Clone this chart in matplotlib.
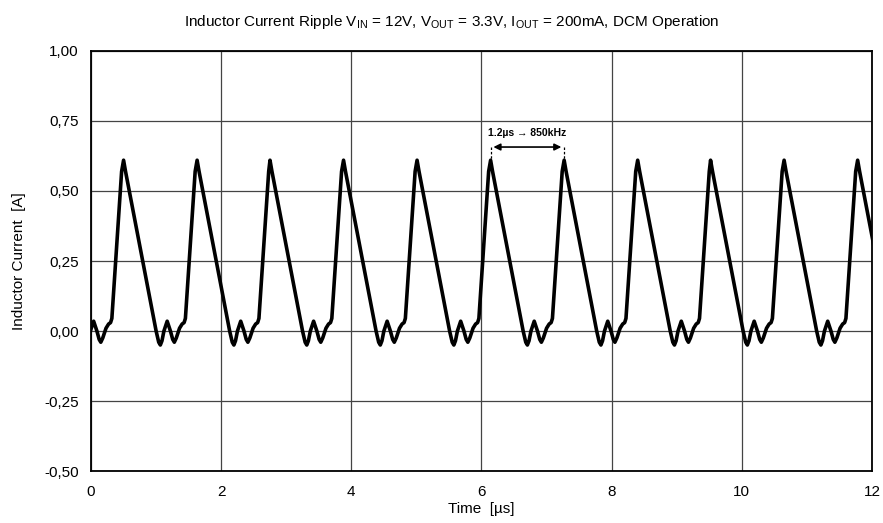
import numpy as np
import matplotlib
matplotlib.use("Agg")
import matplotlib.pyplot as plt
from matplotlib.ticker import FuncFormatter

plt.rcParams['font.family'] = ['Liberation Sans', 'DejaVu Sans']

# peak instants of each switching cycle [us]
peak_times = [-0.63, 0.50, 1.63, 2.75, 3.88, 5.01, 6.14, 7.27, 8.40, 9.52, 10.65, 11.78]
# one cycle: offset from peak [us] and current [A]
cycle_offsets = [0.00, 0.03, 0.50, 0.54, 0.565, 0.59, 0.62, 0.67, 0.72, 0.755,
                 0.78, 0.81, 0.86, 0.90, 0.93, 0.95, 1.10]
cycle_current = [0.61, 0.57, 0.00, -0.04, -0.05, -0.035, 0.00, 0.035, 0.00, -0.03,
                 -0.04, -0.025, 0.01, 0.025, 0.03, 0.045, 0.57]

x_ticks = [0, 2, 4, 6, 8, 10, 12]
y_ticks = [-0.50, -0.25, 0.00, 0.25, 0.50, 0.75, 1.00]

t = []
i_l = []
for p in peak_times:
    t.extend([p + o for o in cycle_offsets])
    i_l.extend(cycle_current)

fig = plt.figure(figsize=(8.83, 5.23), dpi=100)
ax = fig.add_axes([0.1031, 0.0994, 0.8844, 0.8031])

ax.plot(t, i_l, color='black', lw=2.6, solid_joinstyle='round', solid_capstyle='round', zorder=3)

ax.set_xlim(0, 12)
ax.set_ylim(-0.5, 1.0)
ax.set_xticks(x_ticks)
ax.set_yticks(y_ticks)
ax.yaxis.set_major_formatter(FuncFormatter(lambda v, pos: f"{v:.2f}".replace('.', ',')))
ax.tick_params(length=0, labelsize=11)
ax.tick_params(axis='x', pad=10)
ax.tick_params(axis='y', pad=9)
ax.grid(True, color='#444444', lw=0.9)
for s in ax.spines.values():
    s.set_linewidth(1.3)

ax.set_xlabel('Time  [µs]', fontsize=11, labelpad=2)
ax.set_ylabel('Inductor Current  [A]', fontsize=11, labelpad=13)
ax.set_title(r'Inductor Current Ripple V$_{\mathregular{IN}}$ = 12V, V$_{\mathregular{OUT}}$ = 3.3V, '
             r'I$_{\mathregular{OUT}}$ = 200mA, DCM Operation', fontsize=11, pad=18, x=0.462)

# period annotation
t1, t2 = peak_times[6], peak_times[7]
ax.annotate('', xy=(t1, 0.657), xytext=(t2, 0.657),
            arrowprops=dict(arrowstyle='<|-|>', color='black', lw=1.2, mutation_scale=10))
ax.plot([t1, t1], [0.657, 0.615], color='black', lw=0.9, ls=(0, (2, 1.5)))
ax.plot([t2, t2], [0.657, 0.615], color='black', lw=0.9, ls=(0, (2, 1.5)))
ax.text((t1 + t2) / 2, 0.707, '1.2µs → 850kHz', ha='center', va='center',
        fontsize=7.5, fontweight='bold')

plt.savefig('out.png', dpi=100)
